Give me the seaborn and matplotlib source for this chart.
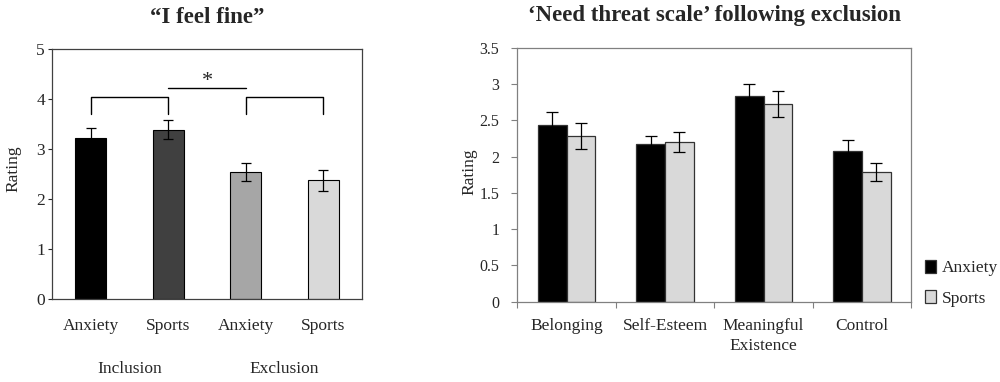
import numpy as np
import pandas as pd
import seaborn as sns
import matplotlib.pyplot as plt

# left panel: "I feel fine"
fine_keys = ['Inclusion Anxiety', 'Inclusion Sports', 'Exclusion Anxiety', 'Exclusion Sports']
fine_ticks = ['Anxiety', 'Sports', 'Anxiety', 'Sports']
fine_groups = ['Inclusion', 'Exclusion']
fine_mean = [3.21, 3.38, 2.54, 2.37]
fine_err = [0.21, 0.19, 0.18, 0.21]
fine_colors = ['#000000', '#404040', '#a6a6a6', '#d9d9d9']
bracket_top = 4.03
bracket_foot = 3.70
link_y = 4.21
star_y = 4.34

# right panel: need threat scale
needs = ['Belonging', 'Self-Esteem', 'Meaningful\nExistence', 'Control']
primes = ['Anxiety', 'Sports']
anx_mean = [2.43, 2.17, 2.84, 2.08]
anx_err = [0.19, 0.11, 0.16, 0.15]
spo_mean = [2.28, 2.20, 2.72, 1.79]
spo_err = [0.18, 0.14, 0.18, 0.125]

sns.set_style('white')
plt.rcParams['font.family'] = ['serif']
plt.rcParams['font.serif'] = ['Liberation Serif', 'DejaVu Serif']
plt.rcParams['mathtext.fontset'] = 'stix'

fig = plt.figure(figsize=(10, 3.82), dpi=100)
ax1 = fig.add_axes([0.052, 0.2173, 0.31, 0.6545])
ax2 = fig.add_axes([0.5173, 0.2102, 0.394, 0.665])

# ---- left panel
df1 = pd.DataFrame({'cond': fine_keys, 'rating': fine_mean})
sns.barplot(data=df1, x='cond', y='rating', hue='cond', palette=fine_colors,
            order=fine_keys, hue_order=fine_keys, width=0.4, legend=False,
            edgecolor='black', linewidth=0.8, errorbar=None, ax=ax1)
xs = [p.get_x() + p.get_width() / 2 for p in ax1.patches]
ax1.errorbar(xs, fine_mean, yerr=fine_err, fmt='none', ecolor='black',
             elinewidth=0.9, capsize=3.5, capthick=0.9)

# brackets + significance
for a, b in [(0, 1), (2, 3)]:
    ax1.plot([xs[a], xs[a], xs[b], xs[b]],
             [bracket_foot, bracket_top, bracket_top, bracket_foot],
             color='black', lw=1.0)
ax1.plot([xs[1], xs[2]], [link_y, link_y], color='black', lw=1.0)
ax1.text((xs[1] + xs[2]) / 2, star_y, '*', ha='center', va='center', fontsize=16)

ax1.set_ylim(0, 5)
ax1.set_xlim(-0.5, 3.5)
ax1.set_yticks(range(6))
ax1.set_xticks(range(4))
ax1.set_xticklabels(fine_ticks, fontsize=12.5)
ax1.tick_params(axis='y', left=True, length=3, width=0.8, labelsize=12.5, pad=2)
ax1.tick_params(axis='x', bottom=False, length=0, pad=14)
ax1.set_xlabel('')
ax1.set_ylabel('Rating', fontsize=12.5)
ax1.yaxis.set_label_coords(-0.10, 0.52)
for i, g in enumerate(fine_groups):
    ax1.text(2 * i + 0.5, -1.40, g, ha='center', va='center', fontsize=12.5,
             transform=ax1.transData)
for s in ax1.spines.values():
    s.set_color('#404040')
    s.set_linewidth(0.9)
ax1.set_title('\u201cI feel fine\u201d', fontsize=16.5, fontweight='bold', pad=19)

# ---- right panel
df2 = pd.DataFrame({
    'need': needs * 2,
    'prime': [primes[0]] * 4 + [primes[1]] * 4,
    'rating': anx_mean + spo_mean,
})
sns.barplot(data=df2, x='need', y='rating', hue='prime', order=needs,
            hue_order=primes, palette=['#000000', '#d9d9d9'], width=0.58,
            edgecolor='#333333', linewidth=0.9, errorbar=None, ax=ax2)
for cont, err in zip(ax2.containers, [anx_err, spo_err]):
    cx = [b.get_x() + b.get_width() / 2 for b in cont]
    cy = [b.get_height() for b in cont]
    ax2.errorbar(cx, cy, yerr=err, fmt='none', ecolor='black',
                 elinewidth=0.9, capsize=4.5, capthick=0.9)

ax2.set_ylim(0, 3.5)
ax2.set_xlim(-0.5, 3.5)
ax2.set_yticks(np.arange(0, 3.51, 0.5))
ax2.set_yticklabels(['0', '0.5', '1', '1.5', '2', '2.5', '3', '3.5'])
ax2.set_xticks(np.arange(-0.5, 3.6, 1), minor=True)
ax2.tick_params(axis='x', which='minor', bottom=True, length=4, width=0.8,
                color='#808080')
ax2.tick_params(axis='x', which='major', bottom=False, length=0, pad=12,
                labelsize=12.5)
ax2.tick_params(axis='y', left=True, length=4, width=0.8, color='#808080',
                labelsize=11.5, pad=9)
for lab in ax2.get_xticklabels():
    lab.set_linespacing(1.3)
ax2.set_xlabel('')
ax2.set_ylabel('Rating', fontsize=12.5)
ax2.yaxis.set_label_coords(-0.102, 0.51)
for s in ax2.spines.values():
    s.set_color('#808080')
    s.set_linewidth(0.9)
ax2.set_title('\u2018Need threat scale\u2019 following exclusion', fontsize=16.5,
              fontweight='bold', pad=19)

handles, labels = ax2.get_legend_handles_labels()
ax2.legend(handles, labels, loc='lower left', bbox_to_anchor=(1.035, -0.02),
           frameon=False, fontsize=12.5, handlelength=0.65, handleheight=0.75,
           handletextpad=0.3, labelspacing=0.8, borderpad=0, borderaxespad=0)

fig.savefig('out.png', dpi=100)
